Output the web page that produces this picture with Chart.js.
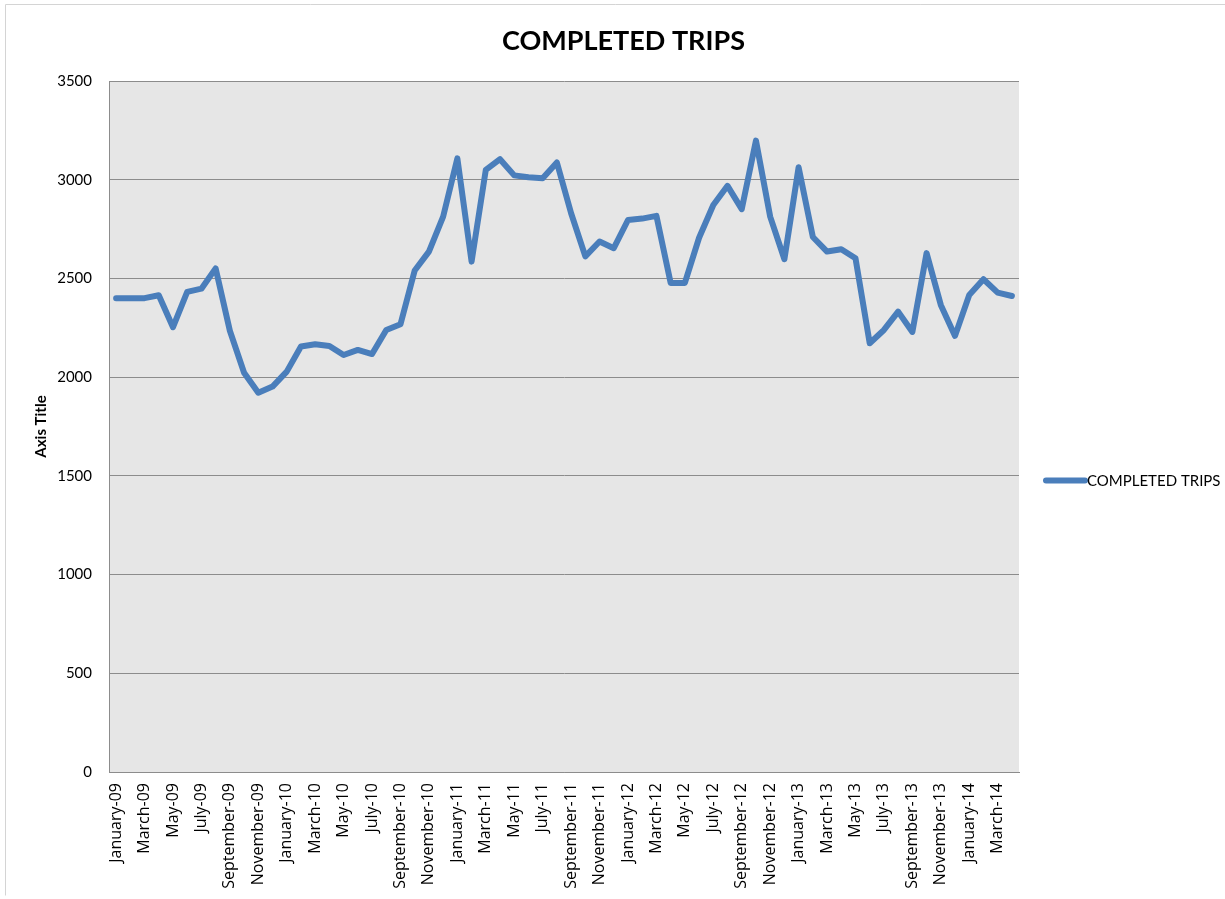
<!DOCTYPE html>
<html>
<head>
<meta charset="utf-8">
<script src="https://cdn.jsdelivr.net/npm/chart.js@4.4.1/dist/chart.umd.min.js"></script>
<style>
  html, body { margin: 0; padding: 0; background: #fff; }
  #wrap { width: 1225px; height: 899px; }
</style>
</head>
<body>
<div id="wrap"><canvas id="trips-chart" width="1225" height="899"></canvas></div>
<script>
// Data
const monthNames = ["January", "February", "March", "April", "May", "June",
  "July", "August", "September", "October", "November", "December"];
const years = ["09", "10", "11", "12", "13", "14"];
const monthCount = 64; // January-09 .. April-14

const completedTrips = [
  2400, 2400, 2400, 2415, 2253, 2432, 2448, 2551, 2235, 2022, 1921, 1952,
  2028, 2155, 2167, 2158, 2112, 2138, 2117, 2239, 2268, 2540, 2636, 2813,
  3108, 2585, 3050, 3104, 3022, 3012, 3007, 3087, 2830, 2612, 2687, 2653,
  2796, 2803, 2817, 2477, 2477, 2706, 2872, 2969, 2851, 3198, 2813, 2597,
  3063, 2710, 2636, 2648, 2602, 2172, 2239, 2332, 2229, 2628, 2366, 2209,
  2416, 2496, 2428, 2411
];

const yTicks = [0, 500, 1000, 1500, 2000, 2500, 3000, 3500];

const chartTitle = "COMPLETED TRIPS";
const seriesName = "COMPLETED TRIPS";

// Build category labels
const labels = [];
for (let i = 0; i < monthCount; i++) {
  labels.push(monthNames[i % 12] + "-" + years[Math.floor(i / 12)]);
}

const lineColor = "#4a7ebb";

// Plot background, frame, title and legend
const decorations = {
  id: "decorations",
  beforeDraw(chart) {
    const { ctx, chartArea } = chart;
    ctx.save();
    ctx.fillStyle = "#e6e6e6";
    ctx.fillRect(chartArea.left, chartArea.top,
      chartArea.right - chartArea.left, chartArea.bottom - chartArea.top);
    // outer frame (left + top + bottom)
    ctx.strokeStyle = "#d4d4d4";
    ctx.lineWidth = 1;
    ctx.beginPath();
    ctx.moveTo(5.5, 895.5);
    ctx.lineTo(5.5, 4.5);
    ctx.lineTo(1225, 4.5);
    ctx.stroke();
    ctx.restore();
  },
  afterDraw(chart) {
    const { ctx, chartArea } = chart;
    ctx.save();
    // title, centred on the whole chart
    ctx.fillStyle = "#000";
    ctx.font = "bold 27px Lato, 'Open Sans', sans-serif";
    ctx.textAlign = "center";
    ctx.textBaseline = "middle";
    ctx.fillText(chartTitle, chart.width / 2 + 11, 41);

    // legend
    const x = chartArea.right + 27;
    const y = (chartArea.top + chartArea.bottom) / 2 + 54;
    ctx.strokeStyle = lineColor;
    ctx.lineWidth = 6;
    ctx.lineCap = "round";
    ctx.beginPath();
    ctx.moveTo(x, y);
    ctx.lineTo(x + 39, y);
    ctx.stroke();
    ctx.textAlign = "left";
    ctx.font = "15px Lato, 'Open Sans', sans-serif";
    ctx.fillText(seriesName, x + 41, y + 1);
    ctx.restore();
  }
};

const ctx = document.getElementById("trips-chart").getContext("2d");

new Chart(ctx, {
  type: "line",
  data: {
    labels: labels,
    datasets: [{
      label: seriesName,
      data: completedTrips,
      borderColor: lineColor,
      borderWidth: 6,
      borderJoinStyle: "round",
      borderCapStyle: "round",
      tension: 0,
      pointRadius: 0,
      fill: false
    }]
  },
  options: {
    responsive: false,
    animation: false,
    layout: {
      padding: { left: 0, right: 206, top: 81, bottom: 0 }
    },
    plugins: {
      legend: { display: false },
      tooltip: { enabled: false },
      title: { display: false }
    },
    scales: {
      x: {
        type: "category",
        offset: true,
        grid: { display: false, drawTicks: false },
        border: { display: true, color: "#8c8c8c", width: 1 },
        ticks: {
          autoSkip: false,
          minRotation: 90,
          maxRotation: 90,
          padding: 11,
          color: "#000",
          font: { family: "'Open Sans', Lato, sans-serif", size: 16 },
          callback: function (val, i) {
            return i % 2 === 0 ? this.getLabelForValue(val) : "";
          }
        },
        afterFit: (scale) => { scale.height = 127; }
      },
      y: {
        min: 0,
        max: 3500,
        afterBuildTicks: (scale) => { scale.ticks = yTicks.map((v) => ({ value: v })); },
        grid: { color: "#8c8c8c", lineWidth: 1, drawTicks: false },
        border: { display: true, color: "#8c8c8c", width: 1 },
        ticks: {
          padding: 17,
          color: "#000",
          font: { family: "Lato, 'Open Sans', sans-serif", size: 15 },
          callback: (v) => String(v)
        },
        title: {
          display: true,
          text: "Axis Title",
          color: "#000",
          font: { family: "Lato, 'Open Sans', sans-serif", size: 15, weight: "bold", lineHeight: 1.2 },
          padding: { top: 32, bottom: 0 }
        },
        afterFit: (scale) => { scale.width = 109; }
      }
    }
  },
  plugins: [decorations]
});
</script>
</body>
</html>
